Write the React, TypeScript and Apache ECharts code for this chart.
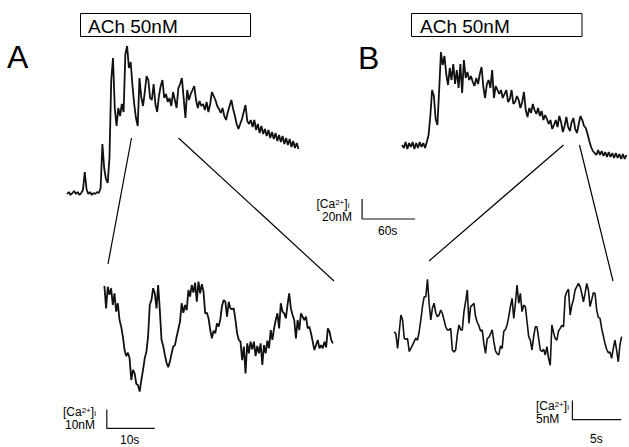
import React, { useEffect, useRef } from "react";
import * as echarts from "echarts";

// ---------- DATA ----------
// Panel A, full trace: [Ca2+]i (nM) sampled every 2 s starting at 8 s
const topAStart = 8;
const topAStep = 2;
const topAValues = [
  36, 38, 35, 37, 39, 36, 38, 35, 37, 40,
  58, 41, 36, 38, 35, 37, 36, 38, 37, 42,
  86, 62, 51, 47, 72, 150, 172, 122, 104, 122,
  114, 126, 118, 176, 184, 162, 168, 145, 126, 112,
  104, 152, 133, 124, 138, 154, 150, 132, 130, 146,
  126, 118, 134, 144, 150, 132, 136, 128, 132, 124,
  138, 130, 122, 142, 146, 152, 132, 112, 140, 130,
  136, 140, 144, 130, 122, 129, 124, 126, 120, 128,
  118, 126, 138, 134, 130, 124, 121, 117, 122, 114,
  110, 118, 124, 130, 121, 114, 106, 101, 106, 111,
  118, 125, 109, 106, 110, 103, 110, 100, 106, 97,
  104, 96, 101, 94, 100, 92, 98, 91, 97, 89,
  95, 88, 94, 86, 92, 85, 91, 83, 89, 82,
  87, 81,
];

// Panel B, full trace: [Ca2+]i (nM) sampled every 2 s starting at 8 s
const topBStart = 8;
const topBStep = 2;
const topBValues = [
  85, 82, 88, 81, 87, 83, 88, 81, 87, 82,
  88, 83, 87, 82, 88, 95, 114, 140, 134, 111,
  105, 140, 178, 165, 174, 156, 145, 162, 150, 166,
  146, 160, 142, 166, 137, 170, 152, 158, 150, 154,
  148, 144, 152, 146, 156, 163, 143, 132, 146, 150,
  142, 160, 132, 144, 140, 136, 140, 132, 136, 140,
  128, 131, 140, 126, 128, 134, 130, 122, 128, 138,
  120, 113, 122, 117, 126, 120, 116, 122, 114, 119,
  110, 115, 111, 106, 110, 101, 105, 110, 103, 114,
  108, 98, 104, 113, 103, 99, 108, 112, 101, 97,
  106, 114, 110, 104, 102, 96, 89, 83, 79, 77,
  75, 80, 75, 79, 74, 78, 73, 78, 73, 77,
  72, 77, 72, 76, 71, 76, 71, 75,
];

// Panel A, expanded segment: nM, every 0.35 s
const zoomAStart = 9.25;
const zoomAStep = 0.35;
const zoomAValues = [
  83.7, 71.9, 83.3, 79.0, 82.5, 73.7, 79.8, 70.2, 74.6, 65.8,
  62.3, 57.0, 50.0, 46.8, 48.6, 45.6, 34.2, 39.5, 37.7, 32.1,
  31.6, 28.1, 34.2, 39.5, 45.6, 49.1, 57.0, 73.7, 76.3, 82.5,
  79.8, 71.9, 84.2, 71.0, 55.3, 52.1, 47.4, 43.3, 40.9, 43.9,
  48.2, 51.8, 52.6, 57.0, 60.9, 64.9, 74.6, 69.6, 73.7, 71.0,
  81.6, 78.1, 84.2, 80.2, 85.4, 75.4, 86.0, 79.8, 84.7, 80.7,
  69.3, 69.6, 66.7, 60.5, 56.1, 60.2, 58.8, 64.0, 62.3, 66.1,
  73.2, 76.3, 75.4, 67.5, 75.4, 71.9, 71.4, 71.9, 65.8, 58.8,
  55.3, 54.4, 44.7, 51.8, 37.7, 53.5, 48.2, 54.4, 50.3, 54.4,
  46.8, 52.1, 48.2, 53.5, 42.1, 52.6, 48.2, 54.9, 50.9, 60.5,
  55.3, 61.4, 65.8, 69.3, 61.4, 74.6, 70.2, 69.3, 66.7, 73.7,
  79.8, 71.9, 68.4, 65.8, 56.1, 65.8, 60.5, 69.3, 67.5, 65.8,
  67.5, 61.4, 62.3, 58.8, 54.4, 50.0, 52.6, 55.3, 50.9, 52.6,
  50.9, 54.4, 51.4, 61.4, 59.6, 55.3, 53.5,
];

// Panel B, expanded segment: nM, every 0.17 s
const zoomBStart = 0.95;
const zoomBStep = 0.17;
const zoomBValues = [
  29.8, 29.2, 25.4, 29.8, 34.2, 32.9, 28.1, 27.8, 28.0, 24.6,
  25.4, 26.3, 27.2, 28.1, 27.6, 29.8, 32.9, 36.4, 39.0, 39.0,
  43.6, 37.3, 32.9, 36.0, 37.3, 34.8, 33.8, 34.2, 35.5, 34.6,
  32.9, 31.1, 30.3, 30.3, 30.7, 25.0, 24.5, 25.0, 29.0, 31.6,
  30.3, 30.3, 35.1, 37.7, 40.8, 32.0, 36.4, 36.8, 37.3, 33.8,
  32.3, 31.4, 30.0, 30.3, 26.7, 24.1, 28.0, 28.3, 29.2, 30.3,
  27.2, 24.8, 24.0, 23.7, 26.1, 25.4, 29.9, 30.4, 31.6, 33.8,
  36.4, 38.6, 33.3, 37.3, 42.1, 37.3, 39.9, 35.1, 36.8, 36.4,
  32.5, 28.5, 27.6, 25.0, 28.5, 31.1, 31.1, 28.1, 25.0, 24.6,
  25.2, 23.7, 25.9, 22.8, 21.0, 31.6, 29.6, 28.0, 27.6, 30.0,
  30.7, 31.5, 31.1, 39.0, 40.3, 41.0, 34.2, 36.8, 38.3, 40.8,
  41.7, 42.5, 41.7, 39.9, 37.7, 39.9, 42.5, 40.8, 36.4, 38.2,
  40.1, 39.9, 35.5, 33.6, 33.3, 30.7, 28.7, 26.7, 25.2, 24.3,
  24.5, 22.8, 25.4, 27.6, 25.0, 21.9, 26.3, 28.5,
];

// Scale bars: [time origin (s), value origin (nM), length in s, length in nM]
const scaleTop = [342, 11, 60, 20];
const scaleZoomA = [9.75, 8.7, 10, 10];
const scaleZoomB = [19.2, 6.7, 5, 5];

const panelLetters = ["A", "B"];
const stimulusLabel = "ACh 50nM";
const scaleLabelsTop = ["20nM", "60s"];
const scaleLabelsZoomA = ["10nM", "10s"];
const scaleLabelsZoomB = ["5nM", "5s"];

// ---------- LAYOUT ----------
const FONT = '"Liberation Sans", Arial, Helvetica, sans-serif';
const PX_S_TOP = 0.8833; // px per second, full traces
const PX_S_ZA = 4.8;
const PX_S_ZB = 9.8;

function series(start: number, step: number, values: number[]) {
  return values.map((v, i) => [start + i * step, v]);
}
function bar(s: number[]) {
  const [t, v, dt, dv] = s;
  return [
    [t, v + dv],
    [t, v],
    [t + dt, v],
  ];
}

function caLabel(x: number, y: number) {
  return {
    type: "text",
    x,
    y,
    style: {
      text: "{a|[Ca}{s|2+}{a|]}{b|i}",
      align: "left",
      verticalAlign: "middle",
      fill: "#000",
      rich: {
        a: { fontSize: 12, fontFamily: FONT, lineHeight: 11, fill: "#000" },
        s: { fontSize: 8, fontFamily: FONT, lineHeight: 8, verticalAlign: "top", fill: "#000" },
        b: { fontSize: 8, fontFamily: FONT, lineHeight: 8, verticalAlign: "bottom", fill: "#000" },
      },
    },
  };
}
function txt(text: string, x: number, y: number, size: number) {
  return {
    type: "text",
    x,
    y,
    style: { text, fontSize: size, fontFamily: FONT, fill: "#000", align: "left", verticalAlign: "middle" },
  };
}
function seg(x1: number, y1: number, x2: number, y2: number) {
  return { type: "line", shape: { x1, y1, x2, y2 }, style: { stroke: "#000", lineWidth: 1.2 } };
}

export default function App() {
  const ref = useRef<HTMLDivElement>(null);
  useEffect(() => {
    document.body.style.margin = "0";
    if (!ref.current) return;
    const chart = echarts.init(ref.current, undefined, { renderer: "svg" });
    const grids = [
      { left: 60, top: 40, width: 420 * PX_S_TOP, height: 190, xmax: 420, ymax: 190 },
      { left: 395, top: 40, width: 264 * PX_S_TOP, height: 190, xmax: 264, ymax: 190 },
      { left: 60, top: 255, width: 60 * PX_S_ZA, height: 190, xmax: 60, ymax: 100 },
      { left: 385, top: 255, width: 25 * PX_S_ZB, height: 190, xmax: 25, ymax: 50 },
    ];
    const mk = (data: number[][], idx: number, w: number) => ({
      type: "line",
      data,
      xAxisIndex: idx,
      yAxisIndex: idx,
      showSymbol: false,
      symbol: "none",
      silent: true,
      clip: false,
      lineStyle: { color: "#111", width: w, join: "bevel" },
    });
    const option: any = {
      animation: false,
      backgroundColor: "#fff",
      grid: grids.map((g) => ({ left: g.left, top: g.top, width: g.width, height: g.height })),
      xAxis: grids.map((g, i) => ({ type: "value", gridIndex: i, min: 0, max: g.xmax, show: false })),
      yAxis: grids.map((g, i) => ({ type: "value", gridIndex: i, min: 0, max: g.ymax, show: false })),
      series: [
        mk(series(topAStart, topAStep, topAValues), 0, 1.8),
        mk(series(topBStart, topBStep, topBValues), 1, 1.8),
        mk(series(zoomAStart, zoomAStep, zoomAValues), 2, 1.8),
        mk(series(zoomBStart, zoomBStep, zoomBValues), 3, 1.6),
        mk(bar(scaleTop), 0, 1.2),
        mk(bar(scaleZoomA), 2, 1.2),
        mk(bar(scaleZoomB), 3, 1.2),
      ],
      graphic: {
        elements: [
          txt(panelLetters[0], 7, 57, 32),
          txt(panelLetters[1], 358, 58, 32),
          { type: "rect", shape: { x: 80.5, y: 13.5, width: 170, height: 23 }, style: { fill: "none", stroke: "#000", lineWidth: 1 } },
          { type: "rect", shape: { x: 411.5, y: 13.5, width: 170.5, height: 23 }, style: { fill: "none", stroke: "#000", lineWidth: 1 } },
          txt(stimulusLabel, 88, 26.7, 19),
          txt(stimulusLabel, 420, 26.7, 19),
          seg(131.5, 138, 108, 264),
          seg(178.5, 138, 334, 281),
          seg(563.5, 145, 429, 261),
          seg(579.5, 145, 613, 281),
          caLabel(316.5, 204),
          txt(scaleLabelsTop[0], 322, 217, 12),
          txt(scaleLabelsTop[1], 378, 230.5, 12),
          caLabel(63, 411.5),
          txt(scaleLabelsZoomA[0], 65, 425, 12),
          txt(scaleLabelsZoomA[1], 120, 440, 12),
          caLabel(536, 405.5),
          txt(scaleLabelsZoomB[0], 536, 418.5, 12),
          txt(scaleLabelsZoomB[1], 590, 439, 12),
        ],
      },
    };
    chart.setOption(option);
    return () => chart.dispose();
  }, []);
  return <div ref={ref} style={{ width: 629, height: 447 }} />;
}
